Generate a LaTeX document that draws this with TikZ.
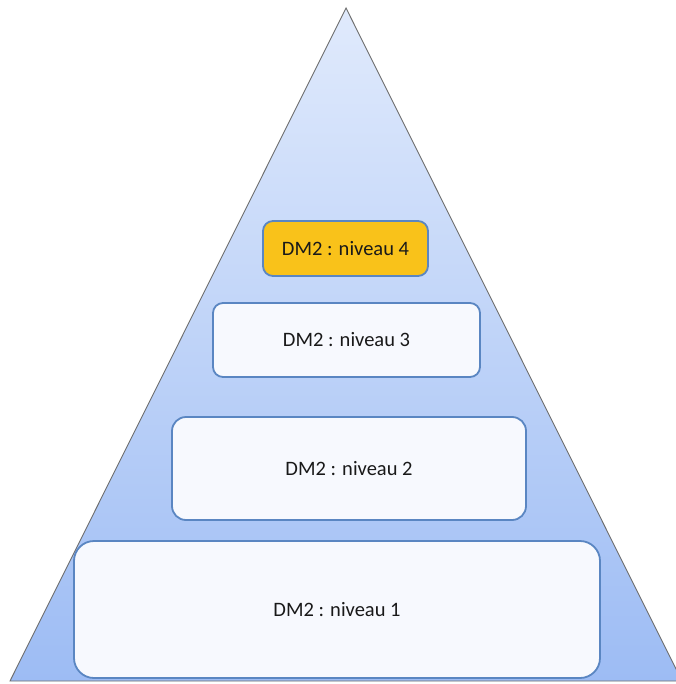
\documentclass[tikz,border=0pt]{standalone}
\usepackage{fontspec}
\setmainfont{Carlito}
\usepackage{tikz}
\usetikzlibrary{positioning}
\definecolor{pyrtop}{HTML}{E0EAFC}
\definecolor{pyrbot}{HTML}{9DBCF4}
\definecolor{pyrline}{HTML}{6E6E6E}
\definecolor{boxline}{HTML}{5A86C2}
\definecolor{boxfill}{HTML}{F7F9FE}
\definecolor{topfill}{HTML}{F9C21A}

\begin{document}
\begin{tikzpicture}[x=1pt,y=-1pt,
  level/.style={draw=boxline, line width=1.8pt, fill=boxfill, rounded corners=10pt,
    inner sep=0pt, font=\fontsize{20.5}{24}\selectfont, text=black!90}]
\useasboundingbox (0,0) rectangle (675,684);
%%%%%%%%%%%%%%
\coordinate (apex) at (346,8);
\coordinate (baseL) at (10,681);
\coordinate (baseR) at (682,681);
\shade[top color=pyrtop, bottom color=pyrbot, draw=pyrline, line width=0.9pt] (apex) -- (baseR) -- (baseL) -- cycle;
%%%%%%%%%%%%%%
\node[level, fill=topfill, minimum width=165pt, minimum height=55pt] (niv4) at (345.5,248.5) {DM2 : niveau 4};
\node[level, minimum width=267pt, minimum height=74pt] (niv3) at (346.5,340) {DM2 : niveau 3};
\node[level, rounded corners=14pt, minimum width=354pt, minimum height=103pt] (niv2) at (349,468.5) {DM2 : niveau 2};
\node[level, rounded corners=20pt, minimum width=526pt, minimum height=137pt] (niv1) at (337,609.5) {DM2 : niveau 1};
\end{tikzpicture}
\end{document}
